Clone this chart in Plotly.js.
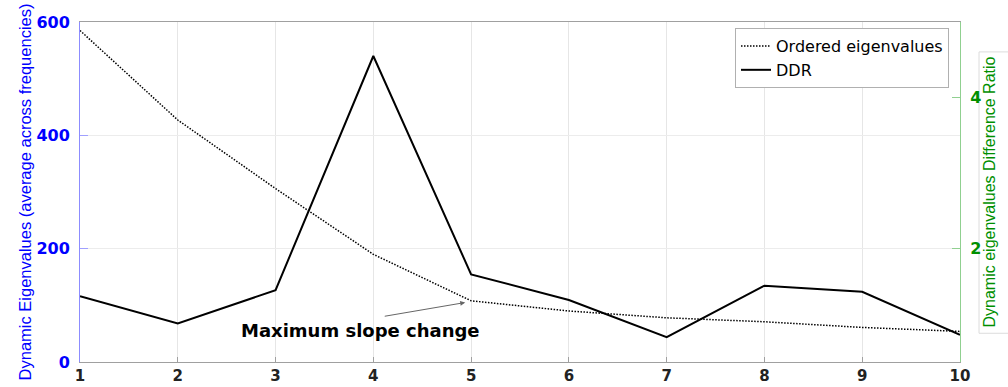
<!DOCTYPE html>
<html>
<head>
<meta charset="utf-8">
<script src="https://cdn.plot.ly/plotly-3.0.1.min.js"></script>
<style>html,body{margin:0;padding:0;background:#fff;}#chart{width:1008px;height:387px;}</style>
</head>
<body>
<div id="chart"></div>
<script>
// ---- data ----
const components = [1, 2, 3, 4, 5, 6, 7, 8, 9, 10];
const orderedEigenvalues = [585, 427, 306, 190, 108, 90, 78, 71, 61, 54];
const ddr = [1.37, 1.01, 1.45, 4.55, 1.66, 1.32, 0.83, 1.51, 1.43, 0.86];
const xTickLabels = ['1', '2', '3', '4', '5', '6', '7', '8', '9', '10'];
const leftTicks = [0, 200, 400, 600];
const rightTicks = [2, 4];
const seriesNames = ['Ordered eigenvalues', 'DDR'];
const leftTitle = 'Dynamic Eigenvalues (average across frequencies)';
const rightTitle = 'Dynamic eigenvalues Difference Ratio';
const annotationText = 'Maximum slope change';

const BLUE = '#0000ff';
const GREEN = '#008f00';
const tickFont = (c, s) => ({family: 'DejaVu Sans', size: s, color: c, weight: 'bold'});

const traces = [
  {
    x: components, y: orderedEigenvalues, name: seriesNames[0],
    type: 'scatter', mode: 'lines', yaxis: 'y',
    line: {color: '#000000', width: 1.5, dash: '1.5px,1.5px'}
  },
  {
    x: components, y: ddr, name: seriesNames[1],
    type: 'scatter', mode: 'lines', yaxis: 'y2',
    line: {color: '#000000', width: 2}
  }
];

const layout = {
  width: 1008, height: 387,
  margin: {l: 80, r: 48, t: 22, b: 25, pad: 0},
  paper_bgcolor: '#ffffff', plot_bgcolor: '#ffffff',
  showlegend: true,
  legend: {
    x: 0.9875, xanchor: 'right', y: 0.982, yanchor: 'top',
    bgcolor: '#ffffff', bordercolor: '#b0b0b0', borderwidth: 1,
    font: {family: 'DejaVu Sans', size: 16, color: '#000'},
    itemwidth: 30, tracegroupgap: 0
  },
  xaxis: {
    range: [1, 10], tickvals: components, ticktext: xTickLabels,
    showgrid: true, gridcolor: '#e6e6e6', gridwidth: 1,
    zeroline: false, showline: true, linecolor: '#a0a0a0', linewidth: 1,
    mirror: true, ticks: 'inside', ticklen: 5, tickcolor: '#a0a0a0',
    tickfont: tickFont('#222222', 15), ticklabelstandoff: 0
  },
  yaxis: {
    range: [0, 600], tickvals: leftTicks,
    showgrid: true, gridcolor: '#ececec', gridwidth: 1,
    zeroline: false, showline: true, linecolor: '#8c8cff', linewidth: 1,
    ticks: 'inside', ticklen: 8, tickcolor: '#a0a0ff',
    tickfont: tickFont(BLUE, 16), ticklabelstandoff: 6,
    title: {text: leftTitle, font: {family: 'Liberation Sans', size: 16.5, color: BLUE}, standoff: 0}
  },
  yaxis2: {
    range: [0.5, 5.0], tickvals: rightTicks, overlaying: 'y', side: 'right',
    showgrid: false, zeroline: false, showline: true, linecolor: '#90d090', linewidth: 1,
    ticks: 'inside', ticklen: 8, tickcolor: '#90d090',
    tickfont: tickFont(GREEN, 16), ticklabelstandoff: 6,
    title: {text: rightTitle, font: {family: 'Liberation Sans', size: 16, color: GREEN}, standoff: 0}
  },
  shapes: [
    {type: 'rect', xref: 'paper', yref: 'paper', x0: 1.0216, x1: 1.06, y0: 0.0845, y1: 0.912,
     line: {color: '#dcdcdc', width: 1}, fillcolor: 'rgba(0,0,0,0)', layer: 'below'}
  ],
  annotations: [
    {x: 4.94, y: 105, xref: 'x', yref: 'y', ax: -82, ay: 14, axref: 'pixel', ayref: 'pixel',
     showarrow: true, arrowhead: 2, arrowsize: 1, arrowwidth: 1, arrowcolor: '#666666', text: ''},
    {x: 3.87, y: 56, xref: 'x', yref: 'y', showarrow: false, text: annotationText,
     xanchor: 'center', yanchor: 'middle',
     font: {family: 'DejaVu Sans', size: 18, color: '#000', weight: 'bold'}}
  ]
};

Plotly.newPlot('chart', traces, layout, {staticPlot: true, displayModeBar: false});
</script>
</body>
</html>
